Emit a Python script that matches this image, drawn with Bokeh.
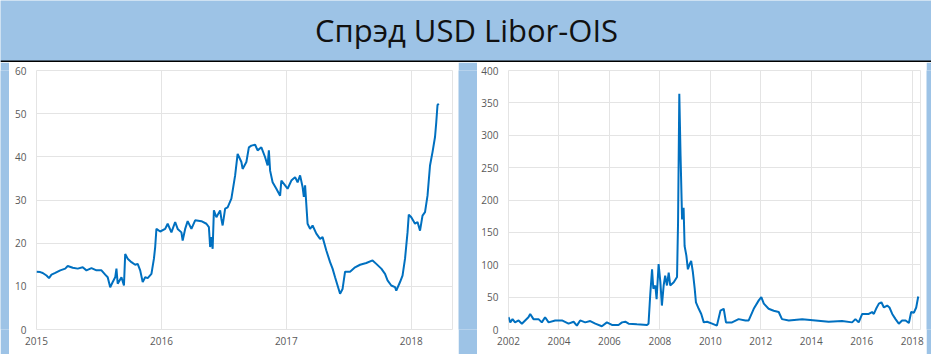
from bokeh.plotting import figure
from bokeh.layouts import row, column
from bokeh.models import Range1d, FixedTicker, Span, ColumnDataSource
from bokeh.core.properties import value
from bokeh.embed import file_html
from bokeh.resources import INLINE

# ---------------- data ----------------
title_text = ["Спрэд USD Libor-OIS"]

left_years = [2015.00, 2015.03, 2015.05, 2015.08, 2015.10, 2015.12, 2015.15, 2015.19, 2015.23, 2015.25,
              2015.29, 2015.33, 2015.37, 2015.40, 2015.44, 2015.48, 2015.52, 2015.55, 2015.57, 2015.59,
              2015.61, 2015.63, 2015.64, 2015.65, 2015.68, 2015.70, 2015.71, 2015.73, 2015.76, 2015.79,
              2015.81, 2015.83, 2015.85, 2015.87, 2015.89, 2015.92, 2015.94, 2015.95, 2015.96, 2015.99,
              2016.03, 2016.05, 2016.08, 2016.11, 2016.13, 2016.16, 2016.17, 2016.19, 2016.21, 2016.24,
              2016.27, 2016.32, 2016.36, 2016.38, 2016.39, 2016.40, 2016.41, 2016.42, 2016.44, 2016.47,
              2016.48, 2016.49, 2016.51, 2016.53, 2016.56, 2016.59, 2016.61, 2016.64, 2016.65, 2016.68,
              2016.70, 2016.72, 2016.75, 2016.77, 2016.80, 2016.83, 2016.85, 2016.86, 2016.87, 2016.89,
              2016.92, 2016.95, 2016.96, 2016.99, 2017.01, 2017.04, 2017.07, 2017.09, 2017.11, 2017.13,
              2017.14, 2017.15, 2017.17, 2017.19, 2017.21, 2017.24, 2017.27, 2017.29, 2017.32, 2017.35,
              2017.37, 2017.39, 2017.41, 2017.43, 2017.45, 2017.47, 2017.51, 2017.55, 2017.59, 2017.64,
              2017.69, 2017.72, 2017.76, 2017.79, 2017.81, 2017.84, 2017.87, 2017.88, 2017.91, 2017.93,
              2017.95, 2017.97, 2017.98, 2018.00, 2018.03, 2018.05, 2018.07, 2018.09, 2018.11, 2018.13,
              2018.15, 2018.17, 2018.19, 2018.20, 2018.21, 2018.22]

left_spread = [13.4, 13.3, 13.1, 12.5, 11.9, 12.7, 13.1, 13.7, 14.1, 14.7,
               14.3, 14.1, 14.4, 13.7, 14.2, 13.7, 13.7, 12.7, 12.1, 9.8,
               11.0, 12.1, 14.1, 10.6, 12.1, 10.2, 17.5, 16.4, 15.6, 15.0,
               15.2, 13.7, 11.0, 12.1, 11.9, 12.9, 16.4, 19.1, 23.3, 22.7,
               23.3, 24.5, 22.5, 24.9, 23.3, 22.5, 20.6, 23.3, 25.1, 23.3,
               25.3, 25.1, 24.5, 23.7, 19.1, 21.4, 18.7, 27.6, 26.0, 27.6,
               25.6, 24.1, 28.0, 28.3, 30.3, 35.7, 40.7, 38.8, 37.2, 38.8,
               42.2, 42.6, 42.8, 41.5, 42.2, 39.9, 38.0, 41.5, 36.8, 34.1,
               32.6, 31.0, 34.5, 33.4, 32.6, 34.5, 35.3, 34.1, 35.7, 33.0,
               30.7, 33.4, 24.5, 23.3, 24.1, 22.2, 21.0, 21.4, 18.3, 15.6,
               14.1, 12.1, 10.2, 8.3, 9.4, 13.4, 13.4, 14.4, 15.0, 15.4,
               16.0, 15.2, 14.1, 12.9, 11.4, 10.2, 9.8, 9.0, 11.0, 12.5,
               16.4, 22.5, 26.6, 26.0, 24.5, 24.9, 22.9, 26.4, 27.2, 31.0,
               38.0, 41.1, 44.6, 48.0, 52.0, 52.3]

right_years = [2002.00, 2002.07, 2002.16, 2002.26, 2002.40, 2002.53, 2002.66, 2002.79, 2002.86, 2002.99,
               2003.19, 2003.32, 2003.45, 2003.59, 2003.85, 2004.12, 2004.38, 2004.58, 2004.71, 2004.84,
               2005.04, 2005.24, 2005.44, 2005.70, 2005.90, 2006.10, 2006.36, 2006.50, 2006.63, 2006.76,
               2007.09, 2007.49, 2007.55, 2007.62, 2007.69, 2007.74, 2007.82, 2007.87, 2007.95, 2008.02,
               2008.08, 2008.15, 2008.21, 2008.28, 2008.35, 2008.41, 2008.55, 2008.68, 2008.72, 2008.77,
               2008.82, 2008.88, 2008.94, 2008.98, 2009.05, 2009.11, 2009.18, 2009.24, 2009.31, 2009.38,
               2009.43, 2009.54, 2009.64, 2009.74, 2009.87, 2010.07, 2010.26, 2010.40, 2010.53, 2010.62,
               2010.86, 2011.12, 2011.39, 2011.52, 2011.72, 2011.92, 2012.02, 2012.12, 2012.31, 2012.51,
               2012.71, 2012.84, 2013.11, 2013.64, 2014.17, 2014.69, 2015.22, 2015.62, 2015.75, 2015.88,
               2016.02, 2016.28, 2016.41, 2016.48, 2016.57, 2016.68, 2016.78, 2016.88, 2017.01, 2017.10,
               2017.21, 2017.34, 2017.47, 2017.60, 2017.74, 2017.87, 2017.96, 2018.07, 2018.16, 2018.24]

right_spread = [19, 11, 16, 11, 14, 9, 14, 19, 24, 16,
                16, 11, 19, 11, 14, 14, 9, 12, 6, 14,
                11, 13, 9, 5, 11, 7, 7, 11, 12, 9,
                8, 7, 9, 55, 93, 63, 68, 47, 101, 73,
                37, 68, 83, 68, 88, 68, 73, 81, 165, 364,
                268, 170, 188, 129, 114, 93, 101, 106, 88, 63,
                42, 32, 24, 11, 12, 9, 6, 29, 32, 11,
                11, 16, 14, 14, 32, 45, 50, 40, 32, 29,
                27, 16, 14, 16, 14, 12, 13, 11, 16, 11,
                24, 24, 27, 24, 32, 40, 42, 34, 37, 34,
                24, 16, 9, 14, 14, 10, 27, 26, 34, 51]

left_xticks = [2015, 2016, 2017, 2018]
left_yticks = [0, 10, 20, 30, 40, 50, 60]
right_xticks = [2002, 2004, 2006, 2008, 2010, 2012, 2014, 2016, 2018]
right_yticks = [0, 50, 100, 150, 200, 250, 300, 350, 400]

# ---------------- style ----------------
BLUE_BG = "#9DC3E6"
LINE = "#0070C0"
GRID = "#E4E4E4"
LABEL = "#595959"
FONT = "Open Sans"


def blank(width, height):
    f = figure(width=width, height=height, toolbar_location=None, output_backend="svg",
               x_axis_location=None, y_axis_location=None, min_border=0,
               x_range=Range1d(0, 1), y_range=Range1d(0, 1))
    f.title.visible = False
    f.background_fill_color = BLUE_BG
    f.border_fill_color = BLUE_BG
    f.outline_line_color = None
    f.grid.visible = False
    return f


# title bar
t = figure(width=931, height=62, toolbar_location=None, output_backend="svg",
           x_axis_location=None, y_axis_location=None, min_border=0,
           x_range=Range1d(0, 931), y_range=Range1d(0, 62))
t.title.visible = False
t.background_fill_color = BLUE_BG
t.border_fill_color = BLUE_BG
t.outline_line_color = None
t.grid.visible = False
t.text(x=[466], y=[33], text=title_text, text_align="center", text_baseline="middle",
       text_font=value(FONT), text_font_size="31px", text_color="#111111")
t.add_layout(Span(location=1, dimension="width", line_color="#000000", line_width=2))


def panel(xs, ys, x0, x1, y1, xticks, yticks, left_border):
    p = figure(width=449, height=292, toolbar_location=None, output_backend="svg",
               x_range=Range1d(x0, x1), y_range=Range1d(0, y1),
               min_border_left=left_border, min_border_right=6,
               min_border_top=8, min_border_bottom=25)
    p.title.visible = False
    p.background_fill_color = "white"
    p.border_fill_color = "white"
    p.outline_line_color = GRID
    p.outline_line_width = 1
    src = ColumnDataSource(dict(x=xs, y=ys))
    p.line("x", "y", source=src, line_color=LINE, line_width=2)
    p.xaxis.ticker = FixedTicker(ticks=xticks)
    p.yaxis.ticker = FixedTicker(ticks=yticks)
    for ax in (p.xaxis, p.yaxis):
        ax.axis_line_color = None
        ax.major_tick_line_color = None
        ax.minor_tick_line_color = None
        ax.major_tick_in = 0
        ax.major_tick_out = 0
        ax.major_label_text_font = FONT
        ax.major_label_text_font_size = "10px"
        ax.major_label_text_color = LABEL
    p.xaxis.major_label_standoff = 7
    p.yaxis.major_label_standoff = 10
    p.xgrid.grid_line_color = GRID
    p.ygrid.grid_line_color = GRID
    p.xgrid.ticker = FixedTicker(ticks=xticks)
    p.ygrid.ticker = FixedTicker(ticks=yticks)
    return p


left = panel(left_years, left_spread, 2015.0, 2018.33, 60, left_xticks, left_yticks, 27)
right = panel(right_years, right_spread, 2002.0, 2018.33, 400, right_xticks, right_yticks, 31)

body = row(blank(9, 292), left, blank(19, 292), right, blank(5, 292), spacing=0)
layout = column(t, body, spacing=0)

open("out.html", "w").write(file_html(layout, INLINE))
